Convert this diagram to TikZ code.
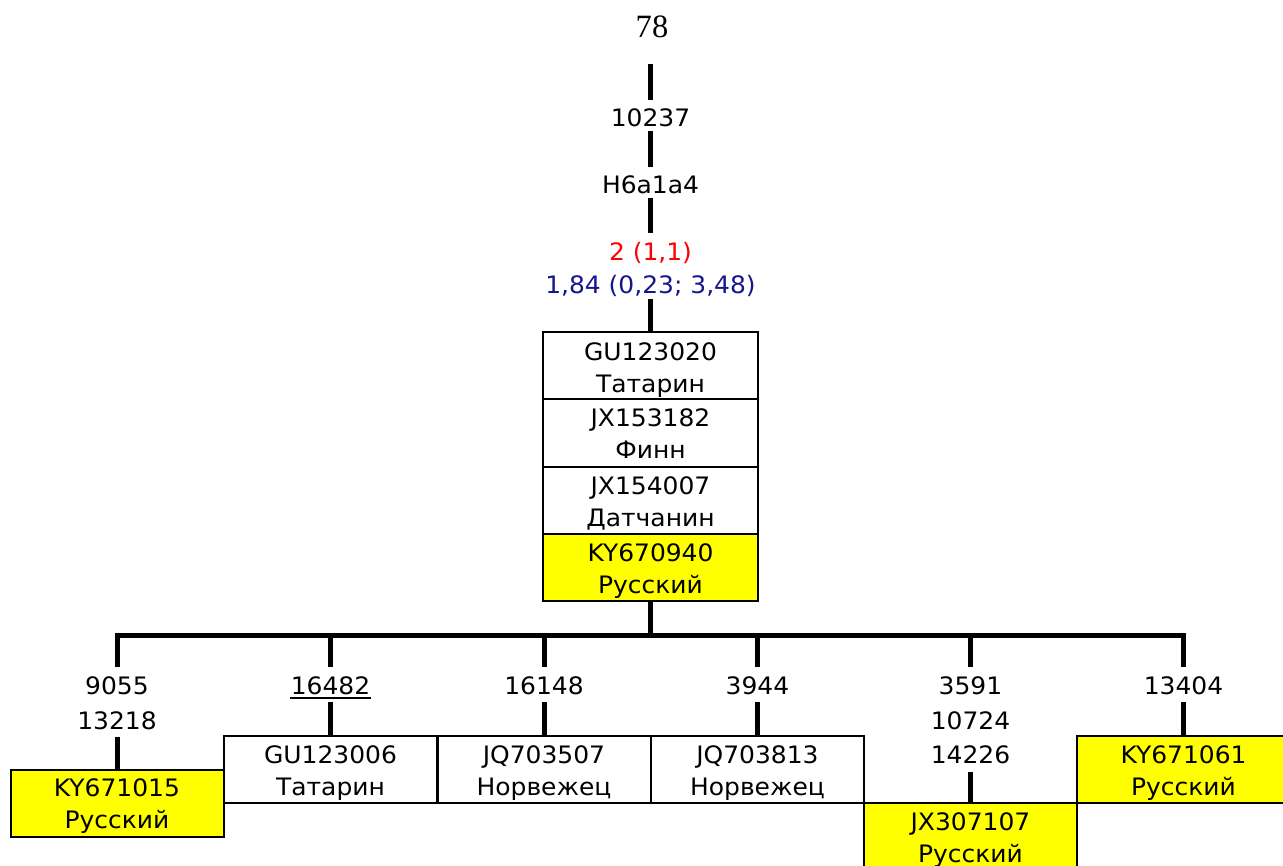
\documentclass[tikz,border=0pt]{standalone}
\usepackage{fontspec}
\setmainfont{DejaVu Sans}[FakeStretch=1.04]
\newfontfamily\numserif{Liberation Serif}
\usetikzlibrary{calc}
\definecolor{navyblue}{RGB}{22,22,140}
\definecolor{hlyellow}{RGB}{255,255,0}

\begin{document}
\begin{tikzpicture}[x=0.75pt,y=-0.75pt,
  trunk/.style={line width=3.75pt, line join=miter},
  txt/.style={font=\fontsize{18pt}{22pt}\selectfont, anchor=base, inner sep=0pt},
  edgelbl/.style={txt, fill=white, inner xsep=3pt, inner ysep=0pt,
    text height=19.5pt, text depth=3.75pt},
  branchlbl/.style={txt, fill=white, inner xsep=3pt, inner ysep=0pt,
    text height=20.25pt, text depth=6pt},
  cell/.style={draw, line width=1.5pt, inner sep=0pt, outer sep=0pt,
    minimum width=161.25pt, minimum height=50.4pt},
  leaf/.style={draw, line width=1.5pt, inner sep=0pt, outer sep=0pt,
    minimum width=159.75pt, minimum height=50.25pt},
  hl/.style={fill=hlyellow}]

\useasboundingbox (0,0) rectangle (1283,865);
\fill[white] (0,0) rectangle (1283,865);
\clip (0,0) rectangle (1283,865);

% ---- root label ----
\node[font=\numserif\fontsize{24.4pt}{28pt}\selectfont, anchor=base, inner sep=0pt]
  (root) at (652,37) {78};
\coordinate (t0) at (650.5,64);

% ---- central stack of sequences ----
\node[cell] (s1) at (650.5,365.6) {};
\node[cell] (s2) at (650.5,432.9) {};
\node[cell] (s3) at (650.5,500.1) {};
\node[cell, hl] (s4) at (650.5,567.4) {};

\node[txt] at ($(s1.north)+(0,28)$) {GU123020};
\node[txt] at ($(s1.north)+(0,60)$) {Татарин};
\node[txt] at ($(s2.north)+(0,27.5)$) {JX153182};
\node[txt] at ($(s2.north)+(0,59.5)$) {Финн};
\node[txt] at ($(s3.north)+(0,27.5)$) {JX154007};
\node[txt] at ($(s3.north)+(0,59.5)$) {Датчанин};
\node[txt] at ($(s4.north)+(0,27.5)$) {KY670940};
\node[txt] at ($(s4.north)+(0,59.5)$) {Русский};

% ---- trunk with its labels ----
\draw[trunk] (t0) -- (s1.north);
\node[edgelbl] (m1) at (650.5,126) {10237};
\node[edgelbl] (m2) at (650.5,193) {H6a1a4};
\node[edgelbl, text=red, text height=20.25pt, text depth=3.75pt] (m3) at (650.5,260) {2 (1,1)};
\node[edgelbl, text=navyblue, text height=21pt, text depth=4.5pt] (m4) at (650.5,293) {1,84 (0,23; 3,48)};

% ---- leaf sequences ----
\node[leaf, hl] (b1) at (117,803) {};
\node[leaf] (b2) at (330.5,769.5) {};
\node[leaf] (b3) at (544,769.5) {};
\node[leaf] (b4) at (757.5,769.5) {};
\node[leaf, hl] (b5) at (970.5,836.5) {};
\node[leaf, hl] (b6) at (1183.5,769.5) {};

\foreach \b/\id/\pop in {b1/KY671015/Русский, b2/GU123006/Татарин,
    b3/JQ703507/Норвежец, b4/JQ703813/Норвежец,
    b5/JX307107/Русский, b6/KY671061/Русский}{
  \node[txt] at ($(\b.north)+(0,27)$) {\id};
  \node[txt] at ($(\b.north)+(0,59)$) {\pop};
}

% ---- branching bar ----
\coordinate (jc) at (650.5,635.5);
\coordinate (j1) at (117,635.5);
\coordinate (j2) at (330.5,635.5);
\coordinate (j3) at (544,635.5);
\coordinate (j4) at (757.5,635.5);
\coordinate (j5) at (970.5,635.5);
\coordinate (j6) at (1183.5,635.5);

\draw[trunk] (s4.south) -- (jc);
\draw[trunk] (b1.north) -- (j1) -- (j6) -- (b6.north);
\draw[trunk] (j2) -- (b2.north);
\draw[trunk] (j3) -- (b3.north);
\draw[trunk] (j4) -- (b4.north);
\draw[trunk] (j5) -- (b5.north);

% ---- branch labels ----
\node[branchlbl] (l1a) at (117,694) {9055};
\node[branchlbl] (l1b) at (117,729) {13218};
\node[branchlbl] (l2a) at (330.5,694) {16482};
\draw[line width=1.5pt] ($(l2a.base west)+(3,4)$) -- ($(l2a.base east)+(-3,4)$);
\node[branchlbl] (l3a) at (544,694) {16148};
\node[branchlbl] (l4a) at (757.5,694) {3944};
\node[branchlbl] (l5a) at (970.5,694) {3591};
\node[branchlbl] (l5b) at (970.5,729) {10724};
\node[branchlbl] (l5c) at (970.5,763.5) {14226};
\node[branchlbl] (l6a) at (1183.5,694) {13404};

\end{tikzpicture}
\end{document}
